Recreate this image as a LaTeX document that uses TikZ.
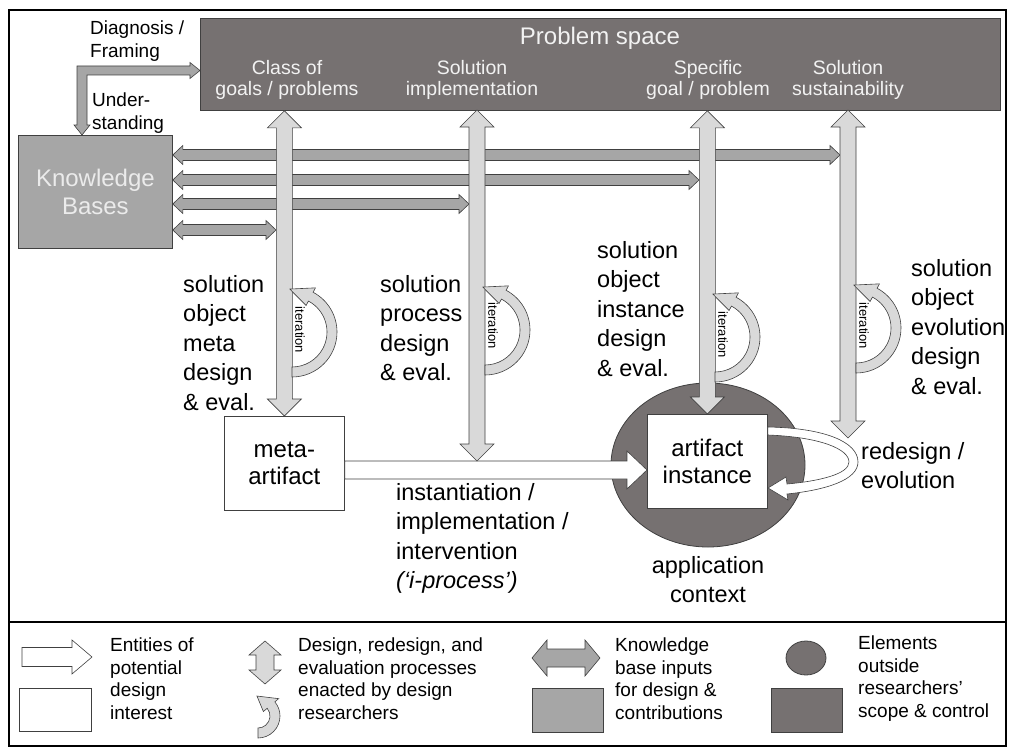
\documentclass[tikz,border=0pt]{standalone}
\usepackage{fontspec}
\setmainfont{Liberation Sans}
\usetikzlibrary{calc, positioning, shapes.geometric}

\definecolor{scopegray}{RGB}{118,113,113}
\definecolor{basegray}{RGB}{166,166,166}
\definecolor{loopgray}{RGB}{217,217,217}
\definecolor{rimgray}{RGB}{64,64,64}

\newcommand{\labelfont}{\fontsize{23.5}{29.5}\selectfont}
\newcommand{\boxfont}{\fontsize{24}{27}\selectfont}
\newcommand{\kbfont}{\fontsize{24}{28}\selectfont}
\newcommand{\scopefont}{\fontsize{19.5}{21.5}\selectfont}
\newcommand{\keyfont}{\fontsize{19}{22.5}\selectfont}
\newcommand{\iterfont}{\fontsize{13}{15}\selectfont}

% block arrow with two heads: #1 style, #2 from, #3 to,
% #4 half shaft, #5 half head, #6 head length
\newcommand{\twoway}[6]{%
  \draw[#1] (#2)
    -- ($(#2)!#6!(#3)!#5!90:(#3)$) -- ($(#2)!#6!(#3)!#4!90:(#3)$)
    -- ($(#3)!#6!(#2)!#4!-90:(#2)$) -- ($(#3)!#6!(#2)!#5!-90:(#2)$)
    -- (#3)
    -- ($(#3)!#6!(#2)!#5!90:(#2)$) -- ($(#3)!#6!(#2)!#4!90:(#2)$)
    -- ($(#2)!#6!(#3)!#4!-90:(#3)$) -- ($(#2)!#6!(#3)!#5!-90:(#3)$)
    -- cycle;}

% block arrow with one head at #3
\newcommand{\oneway}[6]{%
  \draw[#1] ($(#2)!#4!90:(#3)$)
    -- ($(#3)!#6!(#2)!#4!-90:(#2)$) -- ($(#3)!#6!(#2)!#5!-90:(#2)$)
    -- (#3)
    -- ($(#3)!#6!(#2)!#5!90:(#2)$) -- ($(#3)!#6!(#2)!#4!90:(#2)$)
    -- ($(#2)!#4!-90:(#3)$) -- cycle;}

% half-round loop arrow: #1 centre, #2 radius, #3 angle where the head starts
\newcommand{\iterloop}[3]{%
  \draw[proc arrow] ($(#1)+(90:{#2+5})$) arc[start angle=90, end angle=#3, radius={#2+5}]
    -- ($(#1)+(#3:{#2+10})$) -- ($(#1)+(-93:{#2+3})$) -- ($(#1)+(#3:{#2-10})$)
    -- ($(#1)+(#3:{#2-5})$) arc[start angle=#3, end angle=90, radius={#2-5}] -- cycle;}

\begin{document}
\begin{tikzpicture}[x=1pt, y=-1pt,
    scope box/.style={fill=scopegray, draw=rimgray, line width=0.8pt, inner sep=0pt},
    base box/.style={fill=basegray, draw=rimgray, line width=0.8pt, inner sep=0pt},
    entity box/.style={fill=white, draw=rimgray, line width=0.8pt, inner sep=0pt, align=center, font=\boxfont},
    scope text/.style={text=white!95!black, align=center, inner sep=0pt, font=\scopefont},
    proc label/.style={anchor=north west, align=left, inner sep=0pt, font=\labelfont},
    key text/.style={anchor=north west, align=left, inner sep=0pt, font=\keyfont},
    iter text/.style={rotate=-90, inner sep=0pt, font=\iterfont},
    proc arrow/.style={fill=loopgray, draw=rimgray, line width=0.6pt},
    base arrow/.style={fill=basegray, draw=rimgray, line width=0.6pt},
    entity arrow/.style={fill=white, draw=rimgray, line width=0.6pt}]

\useasboundingbox (0,0) rectangle (1012,752);
\draw[line width=1.2pt] (9,10) rectangle (1006,746);
\draw[line width=1.2pt] (9,622) -- (1006,622);

% problem space
\node[scope box, anchor=north west, minimum width=800pt, minimum height=92pt] (space) at (200,18) {};
\node[scope text, font=\kbfont] (spacetitle) at (600,38) {Problem space};
\node[scope text, anchor=north] (classgoal) at (287,60) {Class of\\goals / problems};
\node[scope text, anchor=north] (solimpl) at (472,60) {Solution\\implementation};
\node[scope text, anchor=north] (specgoal) at (708,60) {Specific\\goal / problem};
\node[scope text, anchor=north] (solsust) at (848,60) {Solution\\sustainability};

% knowledge bases
\node[base box, anchor=north west, minimum width=154pt, minimum height=113pt,
      text=white!92!black, font=\kbfont, align=center] (kb) at (18,135) {Knowledge\\Bases};

\node[key text] (diaglabel) at (90,21) {Diagnosis /\\Framing};
\node[key text] (underlabel) at (92,93) {Under-\\standing};

\coordinate (diag) at (space.west |- 0,70.5);
\coordinate (under) at (kb.north -| 82,0);
\draw[base arrow] (diag) -- ++(-10,-8) -- ++(0,3.5) -- (77,66) -- (77,125) -- ++(-3,0)
  -- (under) -- ++(8,-10) -- ++(-3,0) -- (87,75) -- (190,75) -- ++(0,3.5) -- cycle;

% entities and application context
\node[entity box, anchor=north west, minimum width=120pt, minimum height=94pt] (meta) at (224,416) {meta-\\artifact};
\node[scope box, ellipse, minimum width=194pt, minimum height=164pt] (context) at (708,465) {};
\node[entity box, anchor=north west, minimum width=120pt, minimum height=94pt] (inst) at (647,414) {artifact\\instance};

% knowledge base inputs
\coordinate (kb1) at (kb.east |- 0,155);  \coordinate (to1) at (840,155);
\coordinate (kb2) at (kb.east |- 0,180);  \coordinate (to2) at (699,180);
\coordinate (kb3) at (kb.east |- 0,204);  \coordinate (to3) at (469,204);
\coordinate (kb4) at (kb.east |- 0,230);  \coordinate (to4) at (276,230);
\twoway{base arrow}{kb1}{to1}{5.5pt}{9.5pt}{10pt}
\twoway{base arrow}{kb2}{to2}{5.5pt}{9.5pt}{10pt}
\twoway{base arrow}{kb3}{to3}{5.5pt}{9.5pt}{10pt}
\twoway{base arrow}{kb4}{to4}{5.5pt}{9.5pt}{10pt}

% instantiation
\coordinate (ifrom) at (meta.east |- 0,470);
\coordinate (ito) at (inst.west |- 0,470);
\oneway{entity arrow}{ifrom}{ito}{9pt}{19pt}{20pt}

% design and evaluation processes
\coordinate (top1) at (meta.north |- space.south);
\coordinate (top2) at (477,110);  \coordinate (bot2) at (477,461);
\coordinate (top3) at (inst.north |- space.south);
\coordinate (top4) at (848,110);  \coordinate (bot4) at (848,438);
\twoway{proc arrow}{top1}{meta.north}{8pt}{17pt}{17pt}
\twoway{proc arrow}{top2}{bot2}{8pt}{17pt}{17pt}
\twoway{proc arrow}{top3}{inst.north}{8pt}{17pt}{17pt}
\twoway{proc arrow}{top4}{bot4}{8pt}{17pt}{17pt}

% iterations
\coordinate (it1) at (292,332);
\coordinate (it2) at (485,330);
\coordinate (it3) at (715,337);
\coordinate (it4) at (856,328);
\iterloop{it1}{40}{-62}
\iterloop{it2}{40}{-62}
\iterloop{it3}{40}{-62}
\iterloop{it4}{40}{-62}
\node[iter text] (iter1) at (300,330) {iteration};
\node[iter text] (iter2) at (493,326) {iteration};
\node[iter text] (iter3) at (723,335) {iteration};
\node[iter text] (iter4) at (864,326) {iteration};

% redesign loop
\draw[entity arrow] ($(inst.north east)+(0,13)$) .. controls (825,428) and (858,442) .. (858,462)
  .. controls (858,480) and (826,490) .. (787,494) -- (788,500) -- (768,488) -- (786,477)
  -- (787,484) .. controls (820,481) and (849,474) .. (849,462)
  .. controls (849,449) and (820,437) .. ($(inst.north east)+(0,21)$) -- cycle;

% labels
\node[proc label] (metalabel) at (183,275) {solution\\object\\meta\\design\\\& eval.};
\node[proc label] (processlabel) at (380,275) {solution\\process\\design\\\& eval.};
\node[proc label] (instancelabel) at (597,241) {solution\\object\\instance\\design\\\& eval.};
\node[proc label] (evolutionlabel) at (911,259) {solution\\object\\evolution\\design\\\& eval.};
\node[proc label] (ilabel) at (396,483) {instantiation /\\implementation /\\intervention\\\textit{(‘i-process’)}};
\node[proc label] (redesignlabel) at (861,442) {redesign /\\evolution};
\node[proc label, anchor=north, align=center] (contextlabel) at (708,556) {application\\context};

% legend
\coordinate (keyA1) at (22,657);  \coordinate (keyA2) at (92,657);
\oneway{entity arrow}{keyA1}{keyA2}{9.5pt}{17pt}{20pt}
\node[entity box, anchor=north west, minimum width=72pt, minimum height=43pt] (keyentity) at (19,688) {};
\node[key text] (keyentitytext) at (110,638) {Entities of\\potential\\design\\interest};

\coordinate (keyP1) at (265,641);  \coordinate (keyP2) at (265,684);
\twoway{proc arrow}{keyP1}{keyP2}{9pt}{16pt}{14pt}
\coordinate (keyit) at (258,716);
\iterloop{keyit}{17}{-40}
\node[key text] (keyproctext) at (298,638) {Design, redesign, and\\evaluation processes\\enacted by design\\researchers};

\coordinate (keyK1) at (532,658);  \coordinate (keyK2) at (600,658);
\twoway{base arrow}{keyK1}{keyK2}{9pt}{18pt}{15pt}
\node[base box, anchor=north west, minimum width=71pt, minimum height=44pt] (keybase) at (532,688) {};
\node[key text] (keybasetext) at (615,638) {Knowledge\\base inputs\\for design \&\\contributions};

\node[scope box, ellipse, minimum width=40pt, minimum height=34pt] (keyoval) at (806,658) {};
\node[scope box, anchor=north west, minimum width=71pt, minimum height=44pt] (keyscope) at (771,688) {};
\node[key text] (keyscopetext) at (858,636) {Elements\\outside\\researchers’\\scope \& control};
\end{tikzpicture}
\end{document}
